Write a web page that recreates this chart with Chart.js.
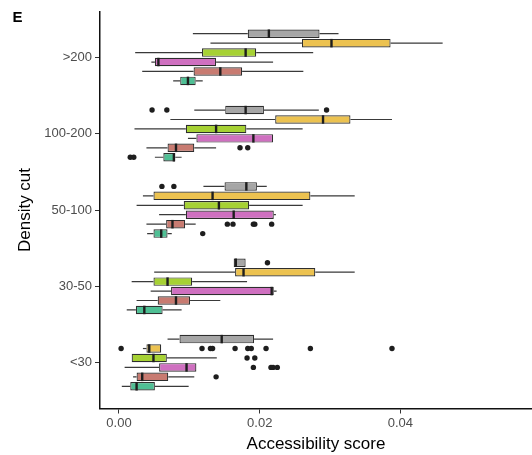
<!DOCTYPE html>
<html>
<head>
<meta charset="utf-8">
<script src="https://cdn.jsdelivr.net/npm/chart.js"></script>
<style>
    body { margin: 0; background: #fff; }
</style>
</head>
<body>
<canvas id="accessibility" width="532" height="455"></canvas>
<script>
const categories = ['>200', '100-200', '50-100', '30-50', '<30'];
const xTicks = [0, 0.02, 0.04];

// one row per density cut: [lower whisker, q1, median, q3, upper whisker]
const greyStats = [
    [0.0105, 0.0183, 0.0213, 0.0285, 0.0312],
    [0.0107, 0.0151, 0.0180, 0.0206, 0.0284],
    [0.0120, 0.0150, 0.0181, 0.0196, 0.0210],
    [0.0163, 0.0163, 0.0166, 0.0180, 0.0180],
    [0.0069, 0.0086, 0.0146, 0.0192, 0.0219]
];
const yellowStats = [
    [0.0130, 0.0260, 0.0302, 0.0386, 0.0460],
    [0.0073, 0.0222, 0.0290, 0.0329, 0.0388],
    [0.0034, 0.0049, 0.0133, 0.0272, 0.0335],
    [0.0050, 0.0165, 0.0177, 0.0279, 0.0335],
    [0.0034, 0.0039, 0.0043, 0.0060, 0.0060]
];
const greenStats = [
    [0.0023, 0.0118, 0.0180, 0.0195, 0.0276],
    [0.0022, 0.0095, 0.0138, 0.0181, 0.0261],
    [0.0025, 0.0092, 0.0142, 0.0185, 0.0261],
    [0.0018, 0.0049, 0.0069, 0.0104, 0.0182],
    [0.0018, 0.0018, 0.0049, 0.0068, 0.0139]
];
const pinkStats = [
    [0.0046, 0.0051, 0.0056, 0.0138, 0.0219],
    [0.0098, 0.0110, 0.0191, 0.0219, 0.0219],
    [0.0057, 0.0095, 0.0163, 0.0220, 0.0223],
    [0.0045, 0.0074, 0.0217, 0.0220, 0.0224],
    [0.0008, 0.0057, 0.0096, 0.0110, 0.0110]
];
const salmonStats = [
    [0.0033, 0.0106, 0.0144, 0.0175, 0.0262],
    [0.0039, 0.0069, 0.0081, 0.0107, 0.0138],
    [0.0039, 0.0067, 0.0076, 0.0094, 0.0109],
    [0.0025, 0.0055, 0.0081, 0.0101, 0.0144],
    [0.0020, 0.0025, 0.0033, 0.0070, 0.0107]
];
const tealStats = [
    [0.0077, 0.0087, 0.0098, 0.0109, 0.0119],
    [0.0051, 0.0063, 0.0078, 0.0080, 0.0089],
    [0.0040, 0.0049, 0.0060, 0.0069, 0.0075],
    [0.0011, 0.0024, 0.0036, 0.0062, 0.0089],
    [0.0004, 0.0016, 0.0025, 0.0051, 0.0099]
];

// outlier points, one list per density cut
const greyOutliers = [[], [0.0047, 0.0068, 0.0295], [0.0061, 0.0078], [0.0211], []];
const yellowOutliers = [[], [], [], [], [0.0003, 0.0118, 0.0130, 0.0133, 0.0165, 0.0183, 0.0188, 0.0209, 0.0272, 0.0388]];
const greenOutliers = [[], [], [], [], [0.0182, 0.0193]];
const pinkOutliers = [[], [], [], [], [0.0191, 0.0216, 0.0219, 0.0225]];
const salmonOutliers = [[], [0.0172, 0.0183], [0.0154, 0.0162, 0.0191, 0.0193, 0.0217], [], [0.0138]];
const tealOutliers = [[], [0.0016, 0.0021], [0.0119], [], []];

const series = [
    { stats: greyStats, outliers: greyOutliers, color: '#a6a6a6' },
    { stats: yellowStats, outliers: yellowOutliers, color: '#ecc250' },
    { stats: greenStats, outliers: greenOutliers, color: '#a6d134' },
    { stats: pinkStats, outliers: pinkOutliers, color: '#cf70c0' },
    { stats: salmonStats, outliers: salmonOutliers, color: '#c87b71' },
    { stats: tealStats, outliers: tealOutliers, color: '#4fbf94' }
];

const fontFamily = '"Liberation Sans", Arial, sans-serif';

// whiskers go under the boxes, medians and outliers on top
const boxParts = {
    id: 'boxParts',
    beforeDatasetsDraw(chart) {
        const ctx = chart.ctx;
        const xs = chart.scales.x;
        ctx.save();
        ctx.strokeStyle = '#3a3a3a';
        ctx.lineWidth = 1.2;
        series.forEach(function (s, i) {
            chart.getDatasetMeta(i).data.forEach(function (bar, j) {
                const st = s.stats[j];
                ctx.beginPath();
                ctx.moveTo(xs.getPixelForValue(st[0]), bar.y);
                ctx.lineTo(xs.getPixelForValue(st[1]), bar.y);
                ctx.moveTo(xs.getPixelForValue(st[3]), bar.y);
                ctx.lineTo(xs.getPixelForValue(st[4]), bar.y);
                ctx.stroke();
            });
        });
        ctx.restore();
    },
    afterDatasetsDraw(chart) {
        const ctx = chart.ctx;
        const xs = chart.scales.x;
        ctx.save();
        series.forEach(function (s, i) {
            chart.getDatasetMeta(i).data.forEach(function (bar, j) {
                const mx = xs.getPixelForValue(s.stats[j][2]);
                ctx.strokeStyle = '#1e1e1e';
                ctx.lineWidth = 2.4;
                ctx.beginPath();
                ctx.moveTo(mx, bar.y - bar.height / 2);
                ctx.lineTo(mx, bar.y + bar.height / 2);
                ctx.stroke();

                ctx.fillStyle = '#1e1e1e';
                s.outliers[j].forEach(function (v) {
                    ctx.beginPath();
                    ctx.arc(xs.getPixelForValue(v), bar.y, 2.7, 0, Math.PI * 2);
                    ctx.fill();
                });
            });
        });
        ctx.restore();
    },
    afterDraw(chart) {
        const ctx = chart.ctx;
        ctx.save();
        ctx.fillStyle = '#000';
        ctx.font = 'bold 15px ' + fontFamily;
        ctx.textBaseline = 'alphabetic';
        ctx.fillText('E', 12.5, 22);
        ctx.restore();
    }
};

const ctx = document.getElementById('accessibility').getContext('2d');
const chart = new Chart(ctx, {
    type: 'bar',
    data: {
        datasets: series.map(function (s) {
            return {
                data: s.stats.map(function (st, j) {
                    return { y: j, x: [st[1], st[3]] };
                }),
                backgroundColor: s.color,
                borderColor: '#2e2e2e',
                borderWidth: 1.2,
                borderSkipped: false,
                categoryPercentage: 0.742,
                barPercentage: 0.9
            };
        })
    },
    options: {
        indexAxis: 'y',
        responsive: false,
        animation: false,
        layout: { padding: { top: 11.5, right: 0, left: 0, bottom: 0 } },
        plugins: {
            legend: { display: false },
            tooltip: { enabled: false }
        },
        scales: {
            x: {
                type: 'linear',
                min: -0.0027,
                max: 0.0587,
                afterBuildTicks: function (scale) {
                    scale.ticks = xTicks.map(function (v) { return { value: v }; });
                },
                afterFit: function (scale) { scale.height = 46.5; },
                ticks: {
                    color: '#4d4d4d',
                    padding: 2,
                    font: { family: fontFamily, size: 13 },
                    callback: function (v) { return v.toFixed(2); }
                },
                grid: { drawOnChartArea: false, tickLength: 5, tickColor: '#333' },
                border: { color: '#111', width: 1.5 },
                title: {
                    display: true,
                    text: 'Accessibility score',
                    color: '#000',
                    padding: { top: 2, bottom: 0 },
                    font: { family: fontFamily, size: 17 }
                }
            },
            y: {
                type: 'linear',
                reverse: true,
                offset: false,
                min: -0.6,
                max: 4.6,
                afterBuildTicks: function (scale) {
                    scale.ticks = categories.map(function (c, i) { return { value: i }; });
                },
                afterFit: function (scale) { scale.width = 100; },
                ticks: {
                    color: '#4d4d4d',
                    padding: 3,
                    font: { family: fontFamily, size: 13 },
                    callback: function (v) { return categories[v]; }
                },
                grid: { offset: false, drawOnChartArea: false, tickLength: 5, tickColor: '#333' },
                border: { color: '#111', width: 1.5 },
                title: {
                    display: true,
                    text: 'Density cut',
                    color: '#000',
                    padding: { top: 15, bottom: 0 },
                    font: { family: fontFamily, size: 17 }
                }
            }
        }
    },
    plugins: [boxParts]
});
</script>
</body>
</html>
